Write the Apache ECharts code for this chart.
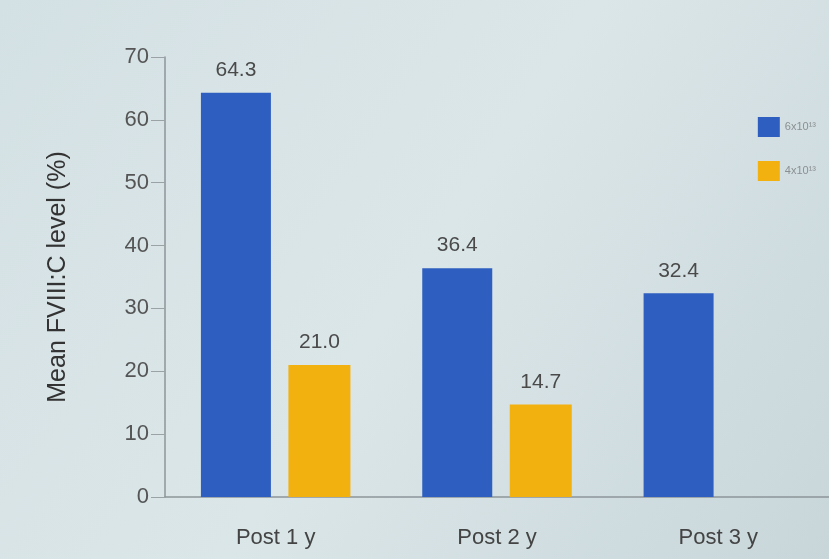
<!DOCTYPE html>
<html><head><meta charset="utf-8">
<script src="https://cdn.jsdelivr.net/npm/echarts@6/dist/echarts.min.js"></script>
<style>html,body{margin:0;padding:0;}#c{width:829px;height:559px;}</style>
</head><body><div id="c"></div>
<script>
const categories = ['Post 1 y', 'Post 2 y', 'Post 3 y'];
const seriesNames = ['6x10¹³', '4x10¹³'];
const highDose = [64.3, 36.4, 32.4];
const lowDose = [21.0, 14.7, null];
const yTicks = [0, 10, 20, 30, 40, 50, 60, 70];

const chart = echarts.init(document.getElementById('c'));
const labelStyle = {show: true, position: 'top', color: '#4a4a4a', fontSize: 21, fontFamily: 'Liberation Sans, Arial', distance: 12, formatter: p => p.value == null ? '' : p.value.toFixed(1)};
chart.setOption({
  backgroundColor: {type: 'linear', x: 0, y: 0, x2: 1, y2: 1, colorStops: [{offset: 0, color: '#d4e1e4'}, {offset: 0.5, color: '#dbe6e8'}, {offset: 1, color: '#c8d6da'}]},
  textStyle: {fontFamily: 'Liberation Sans, Arial'},
  legend: {
    orient: 'vertical', right: 8, top: 112, itemWidth: 22, itemHeight: 20, itemGap: 24,
    icon: 'rect',
    textStyle: {color: '#8a8f92', fontSize: 11},
    data: seriesNames
  },
  grid: {left: 165, right: 0, top: 57, bottom: 62},
  xAxis: {
    type: 'category', data: categories,
    axisLine: {lineStyle: {color: '#8d9599', width: 1.5}},
    axisTick: {show: false},
    axisLabel: {color: '#444', fontSize: 22, margin: 30}
  },
  yAxis: {
    type: 'value', min: 0, max: 70, interval: 10,
    name: 'Mean FVIII:C level (%)', nameLocation: 'middle', nameGap: 94,
    nameTextStyle: {color: '#333', fontSize: 25},
    axisLine: {show: true, lineStyle: {color: '#8d9599', width: 1.5}},
    axisTick: {show: true, length: 14, lineStyle: {color: '#9aa2a6'}},
    axisLabel: {color: '#555', fontSize: 22, margin: 16, formatter: v => yTicks.includes(v) ? String(v) : ''},
    splitLine: {show: false}
  },
  series: [
    {name: seriesNames[0], type: 'bar', data: highDose, barWidth: 70, barGap: '25%', itemStyle: {color: '#2e5fc0'}, label: labelStyle},
    {name: seriesNames[1], type: 'bar', data: lowDose, barWidth: 62, itemStyle: {color: '#f2b10f'}, label: labelStyle}
  ]
});
</script></body></html>
